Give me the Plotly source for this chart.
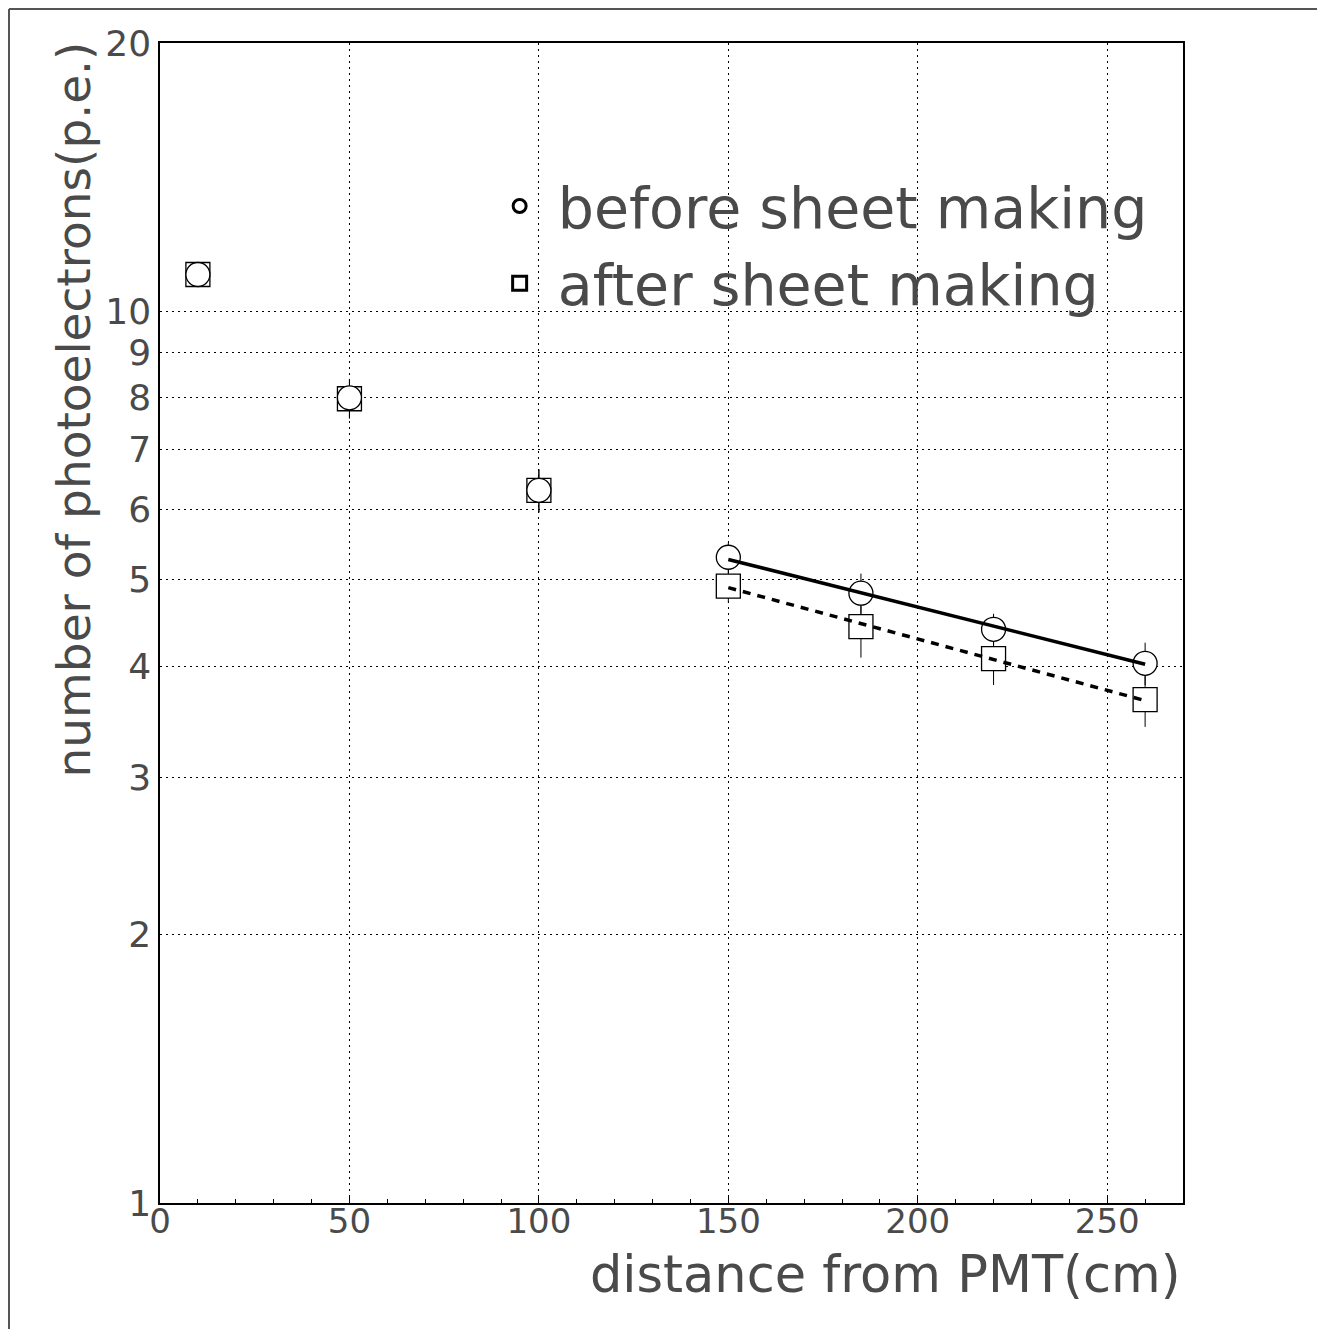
import plotly.graph_objects as go

# ---------------- data ----------------
distance = [10, 50, 100, 150, 185, 220, 260]
before_pe = [11.0, 8.0, 6.3, 5.30, 4.83, 4.40, 4.03]
before_err = [0.30, 0.40, 0.35, 0.21, 0.25, 0.18, 0.22]
after_pe = [11.0, 7.98, 6.3, 4.92, 4.43, 4.08, 3.67]
after_err = [0.30, 0.40, 0.35, 0.21, 0.34, 0.27, 0.25]

fit_x = [150, 260]
fit_before = [5.27, 4.02]
fit_after = [4.90, 3.66]

y_tickvals = [1, 2, 3, 4, 5, 6, 7, 8, 9, 10, 20]
y_ticktext = ["1", "2", "3", "4", "5", "6", "7", "8", "9", "10", "20"]
x_tickvals = [0, 50, 100, 150, 200, 250]

legend_labels = ["before sheet making", "after sheet making"]
x_title = "distance from PMT(cm)"
y_title = "number of photoelectrons(p.e.)"

FONT = "DejaVu Sans ExtraLight, DejaVu Sans"
TXT = "#4a4a4a"

fig = go.Figure()

# after (squares) drawn first, circles on top
fig.add_trace(go.Scatter(
    x=distance, y=after_pe, mode="markers", showlegend=False,
    error_y=dict(type="data", array=after_err, color="black", thickness=1, width=0),
    marker=dict(symbol="square", size=24, color="white",
                line=dict(color="black", width=1.3)),
))
fig.add_trace(go.Scatter(
    x=distance, y=before_pe, mode="markers", showlegend=False,
    error_y=dict(type="data", array=before_err, color="black", thickness=1, width=0),
    marker=dict(symbol="circle", size=24, color="white",
                line=dict(color="black", width=1.3)),
))

# fit lines
fig.add_trace(go.Scatter(
    x=fit_x, y=fit_before, mode="lines", showlegend=False,
    line=dict(color="black", width=3.5),
))
fig.add_trace(go.Scatter(
    x=fit_x, y=fit_after, mode="lines", showlegend=False,
    line=dict(color="black", width=3.5, dash="8px,7px"),
))

# legend entries
fig.add_trace(go.Scatter(
    x=[None], y=[None], mode="markers", name="\u00a0" + legend_labels[0], legendgroup="a",
    marker=dict(symbol="circle-open", size=13, color="black", line=dict(width=3)),
))
fig.add_trace(go.Scatter(
    x=[None], y=[None], mode="markers", name="\u00a0" + legend_labels[1], legendgroup="b",
    marker=dict(symbol="square-open", size=14, color="black", line=dict(width=3)),
))

fig.update_layout(
    width=1325, height=1329,
    margin=dict(l=152, r=150, t=35, b=134),
    paper_bgcolor="white", plot_bgcolor="white",
    font=dict(family=FONT, color=TXT),
    legend=dict(
        x=0.332, y=0.897, xanchor="left", yanchor="top",
        bgcolor="rgba(0,0,0,0)", font=dict(size=57, family=FONT, color=TXT),
        tracegroupgap=0, itemwidth=30,
    ),
    xaxis=dict(
        range=[0, 270], tickvals=x_tickvals, ticks="inside", ticklen=8,
        tickcolor="black", showline=True, linecolor="black", linewidth=1.5,
        mirror=True, showgrid=True, gridcolor="black", gridwidth=1,
        griddash="2px,4px", zeroline=False, ticklabelstandoff=-13,
        tickfont=dict(size=34, family=FONT, color=TXT),
        minor=dict(dtick=10, ticks="inside", ticklen=4, tickcolor="black", showgrid=False),
    ),
    yaxis=dict(
        type="log", range=[0, 1.30103], tickvals=y_tickvals, ticktext=y_ticktext,
        ticks="", showline=True, linecolor="black", linewidth=1.5, mirror=True,
        showgrid=True, gridcolor="black", gridwidth=1, griddash="2px,4px",
        zeroline=False, tickfont=dict(size=36, family=FONT, color=TXT),
    ),
    annotations=[
        dict(text=x_title, xref="paper", yref="paper", x=1.0, y=-0.062,
             xanchor="right", yanchor="middle", showarrow=False,
             font=dict(size=51, family=FONT, color=TXT)),
        dict(text=y_title, xref="paper", yref="paper", x=-0.085, y=1.003,
             xanchor="center", yanchor="top", textangle=-90, showarrow=False,
             font=dict(size=47, family=FONT, color=TXT)),
    ],
    shapes=[
        dict(type="line", xref="paper", yref="paper", x0=-0.1476, x1=1.3,
             y0=1.0293, y1=1.0293, line=dict(color="#555", width=2)),
        dict(type="line", xref="paper", yref="paper", x0=-0.1476, x1=-0.1476,
             y0=-0.3, y1=1.0293, line=dict(color="#555", width=2)),
    ],
)

fig.write_html("out.html")
